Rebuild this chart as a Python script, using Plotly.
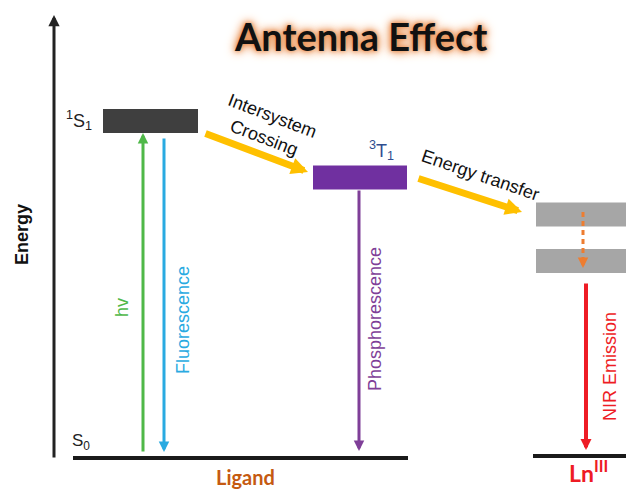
import plotly.graph_objects as go

# ---- data (energy in arbitrary units, S0 = 0) ----
level_names = ["S1", "T1", "Ln_high", "Ln_low"]
level_energy = [337, 280.5, 243.5, 197]
level_colors = ["#3f3f3f", "#7030a0", "#a6a6a6", "#a6a6a6"]
ground_names = ["Ligand", "Ln(III)"]
ground_energy = [0, 2]

transition_names = ["hv", "Fluorescence", "Phosphorescence", "NIR Emission"]
transition_from = [5, 321, 269, 176]
transition_to = [325, 6, 7, 8]
transition_colors = ["#4fb848", "#29aae1", "#7f3f98", "#ee1c25"]

transfer_names = ["Intersystem<br>Crossing", "Energy transfer"]
transfer_from = [325, 280]
transfer_to = [286, 246]

relax_from = 246
relax_to = 190

title_text = "Antenna Effect"
axis_label = "Energy"

# ---- layout helpers (columns in x units) ----
level_x = [(103, 198), (313, 407), (536, 630), (536, 630)]
level_half = 12
ground_x = [(73, 408), (533, 640)]
transition_x = [143, 164, 359, 586]
transfer_x = [(204, 308), (417, 522)]
relax_x = 583

fig = go.Figure()
shapes = []
ann = []

# energy axis
ann.append(dict(x=54, y=443, ax=54, ay=-1, xref="x", yref="y", axref="x", ayref="y",
                text="", showarrow=True, arrowhead=2, arrowsize=0.75, arrowwidth=3,
                arrowcolor="#222222", standoff=0, startstandoff=0))

# ground lines
for (x0, x1), e in zip(ground_x, ground_energy):
    shapes.append(dict(type="line", x0=x0, x1=x1, y0=e, y1=e, xref="x", yref="y",
                       line=dict(color="#1a1a1a", width=4)))

# levels
for (x0, x1), e, c in zip(level_x, level_energy, level_colors):
    shapes.append(dict(type="rect", x0=x0, x1=x1, y0=e - level_half, y1=e + level_half,
                       xref="x", yref="y", fillcolor=c, line=dict(width=0), layer="below"))

# dotted relaxation
shapes.append(dict(type="line", x0=relax_x, x1=relax_x, y0=relax_from, y1=relax_to + 8,
                   xref="x", yref="y", line=dict(color="#ed7d31", width=3, dash="5px,4px")))
ann.append(dict(x=relax_x, y=relax_to, ax=relax_x, ay=relax_to + 9, xref="x", yref="y",
                axref="x", ayref="y", text="", showarrow=True, arrowhead=2, arrowsize=0.7,
                arrowwidth=3, arrowcolor="#ed7d31", standoff=0, startstandoff=0))

# vertical transitions
for x, e0, e1, c in zip(transition_x, transition_from, transition_to, transition_colors):
    w = 4 if c == "#ee1c25" else 3
    ann.append(dict(x=x, y=e1, ax=x, ay=e0, xref="x", yref="y", axref="x", ayref="y",
                    text="", showarrow=True, arrowhead=2, arrowsize=0.7 if w == 3 else 0.55,
                    arrowwidth=w, arrowcolor=c, standoff=0, startstandoff=0))

# yellow transfer arrows
for (x0, x1), e0, e1 in zip(transfer_x, transfer_from, transfer_to):
    ann.append(dict(x=x1, y=e1, ax=x0, ay=e0, xref="x", yref="y", axref="x", ayref="y",
                    text="", showarrow=True, arrowhead=2, arrowsize=0.48, arrowwidth=7,
                    arrowcolor="#ffc000", standoff=0, startstandoff=0))

sans = "Liberation Sans, Arial, sans-serif"

def label(x, y, text, color="#111111", size=17, angle=0, family=sans, **kw):
    d = dict(x=x, y=y, xref="x", yref="y", text=text, showarrow=False, textangle=angle,
             font=dict(family=family, size=size, color=color))
    d.update(kw)
    ann.append(d)

# transition labels
label(122, 150, transition_names[0], transition_colors[0], 18, -90)
label(183, 138, transition_names[1], transition_colors[1], 18, -90)
label(375, 139, transition_names[2], transition_colors[2], 18, -90)
label(610, 91, transition_names[3], transition_colors[3], 18, -90)

# transfer labels
label(268, 332, transfer_names[0], "#111111", 18, 21)
label(480, 283, transfer_names[1], "#111111", 18, 19)

# state labels
label(79, 338, "<sup>1</sup>S<sub>1</sub>", "#222222", 18)
label(381, 308, "<sup>3</sup>T<sub>1</sub>", "#2e4d8f", 18)
label(81, 16, "S<sub>0</sub>", "#222222", 17)

# axis label
label(22, 223, "<b>" + axis_label + "</b>", "#111111", 18, -90)

# ground labels
label(245, -19, "<b>Ligand</b>", "#c55a11", 20, family="Lato, Open Sans, sans-serif")
label(588, -13, "<b>Ln<sup>III</sup></b>", "#ee1c25", 23, family="Lato, Open Sans, sans-serif")

# title with glow
ann.append(dict(x=361, y=422, xref="x", yref="y", text="<b>" + title_text + "</b>",
                showarrow=False,
                font=dict(family="Lato, DejaVu Sans, sans-serif", size=38, color="#111111",
                          shadow="0 0 4px #e8894a, 0 0 8px #e8894a, 0 0 12px #f0a060")))

# page body has an 8px margin: figure covers page pixels 8..634 x 8..490
fig.update_layout(
    width=626, height=482,
    margin=dict(l=0, r=0, t=0, b=0),
    paper_bgcolor="white", plot_bgcolor="white",
    xaxis=dict(range=[8, 634], visible=False, fixedrange=True),
    yaxis=dict(range=[-32, 450], visible=False, fixedrange=True),
    shapes=shapes, annotations=ann, showlegend=False,
)

fig.write_html("out.html")
